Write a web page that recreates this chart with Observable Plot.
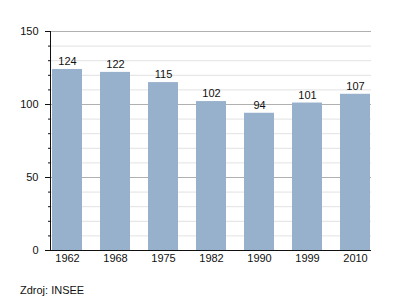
<!DOCTYPE html>
<html><head><meta charset="utf-8">
<script src="https://cdn.jsdelivr.net/npm/d3@7"></script>
<script src="https://cdn.jsdelivr.net/npm/@observablehq/plot@0.6"></script>
<style>
body{margin:0;background:#fff;font-family:"Liberation Sans",Arial,sans-serif;}
#cap{font-size:11px;color:#111;padding-left:20px;margin-top:13px;line-height:14px;}
</style></head>
<body><div id="chart"></div><div id="cap">Zdroj: INSEE</div>
<script>
const years = ["1962","1968","1975","1982","1990","1999","2010"];
const values = [124,122,115,102,94,101,107];
const majorTicks = [0,50,100,150];
const minorTicks = [10,20,30,40,60,70,80,90,110,120,130,140];
const data = years.map((y,i)=>({year:y,value:values[i]}));
const chart = Plot.plot({
  width:400, height:270,
  marginLeft:50, marginRight:29, marginTop:31, marginBottom:20,
  style:{fontFamily:"Liberation Sans, Arial, sans-serif", fontSize:"11px", color:"#111"},
  x:{domain:years, paddingInner:0.38, paddingOuter:0, label:null},
  y:{domain:[0,150], label:null},
  marks:[
    Plot.ruleY(minorTicks,{stroke:"#e2e2e2"}),
    Plot.ruleY([50,100,150],{stroke:"#b0b0b0"}),
    Plot.barY(data,{x:"year",y:"value",fill:"#97b0cc"}),
    Plot.text(data,{x:"year",y:"value",text:d=>String(d.value),dy:-8,fill:"#111",fontSize:11}),
    Plot.axisY(minorTicks,{tickSize:2,text:null,label:null,stroke:"#111"}),
    Plot.axisY(majorTicks,{tickSize:5,tickPadding:7,label:null,stroke:"#111"}),
    Plot.frame({anchor:"left",stroke:"#111"}),
    Plot.axisX({tickSize:0,tickPadding:4,label:null}),
    Plot.ruleY([0],{stroke:"#111"})
  ]
});
document.getElementById("chart").appendChild(chart);
</script></body></html>
